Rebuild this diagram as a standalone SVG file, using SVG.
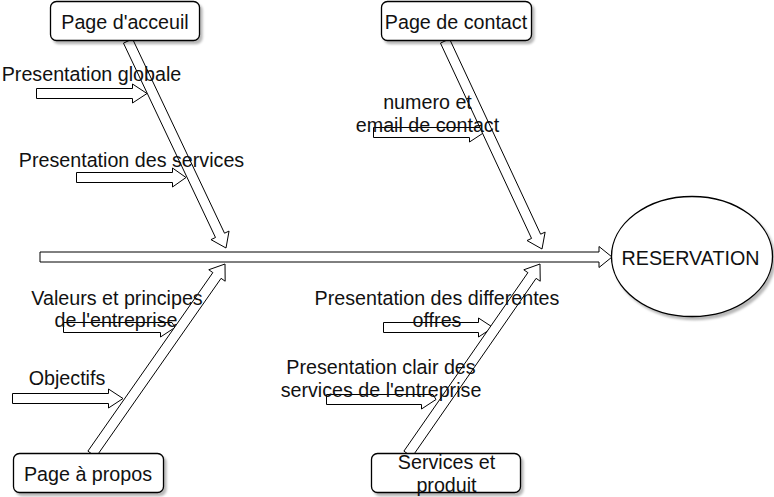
<svg xmlns="http://www.w3.org/2000/svg" width="774" height="497" viewBox="0 0 774 497">
<defs>
<filter id="sh" x="-10%" y="-10%" width="130%" height="140%">
<feDropShadow dx="2.5" dy="3" stdDeviation="1.2" flood-color="#000" flood-opacity="0.28"/>
</filter>
<style>
.arr{fill:#fff;stroke:#000;stroke-width:1;stroke-linejoin:miter}
.box{fill:#fff;stroke:#000;stroke-width:1.3}
.t{font-family:"Liberation Sans",Arial,sans-serif;font-size:19.7px;fill:#111;text-anchor:middle}
</style>
</defs>
<rect width="774" height="497" fill="#fff"/>
<g id="connectors">
<polygon class="arr" points="40,252 599,252 599,246.5 612,257 599,267.5 599,262 40,262"/>
<polygon class="arr" points="36.5,88.5 132.5,88.5 132.5,84 147,93.5 132.5,103 132.5,98.5 36.5,98.5"/>
<polygon class="arr" points="76.5,172.5 172.5,172.5 172.5,168 186,177.5 172.5,187 172.5,182.5 76.5,182.5"/>
<polygon class="arr" points="373.5,127.5 481,127.5 484,132.5 469.5,142 469.5,137.5 373.5,137.5"/>
<polygon class="arr" points="63.5,322.5 172,322.5 175,327.5 160.5,337 160.5,332.5 63.5,332.5"/>
<polygon class="arr" points="12.5,393.5 108.5,393.5 108.5,389 123,398.5 108.5,408 108.5,403.5 12.5,403.5"/>
<polygon class="arr" points="383.5,322.5 478.5,322.5 478.5,318 493,327.5 478.5,337 478.5,332.5 383.5,332.5"/>
<polygon class="arr" points="326.5,394.5 433,394.5 436,399.5 421.5,409 421.5,404.5 326.5,404.5"/>
<polygon class="arr" points="132.52,38.86 224.53,233.21 229.05,231.07 226,248 210.97,239.63 215.49,237.49 123.48,43.14"/>
<polygon class="arr" points="449.53,38.89 540.61,234.2 545.14,232.08 542,249 527.02,240.54 531.55,238.42 440.47,43.11"/>
<polygon class="arr" points="96.1,456.87 221.07,278.34 225.16,281.21 225,264 208.78,269.74 212.87,272.6 87.9,451.13"/>
<polygon class="arr" points="412.11,456.85 536.12,278.35 540.22,281.21 540,264 523.8,269.79 527.9,272.65 403.89,451.15"/>
</g>
<g id="page-acceuil">
<rect class="box" x="50.5" y="1.5" width="149" height="39" rx="6" filter="url(#sh)"/>
<text class="t" x="125" y="29">Page d'acceuil</text>
</g>
<g id="page-contact">
<rect class="box" x="381.5" y="1.5" width="150" height="39" rx="6" filter="url(#sh)"/>
<text class="t" x="456" y="29">Page de contact</text>
</g>
<g id="page-propos">
<rect class="box" x="13.5" y="453.5" width="150" height="39" rx="6" filter="url(#sh)"/>
<text class="t" x="88" y="480.5">Page à propos</text>
</g>
<g id="services-produit">
<rect class="box" x="371.5" y="453.5" width="149" height="39" rx="6" filter="url(#sh)"/>
<text class="t" x="446.5" y="468.5">Services et</text>
<text class="t" x="446.5" y="491.5">produit</text>
</g>
<g id="reservation">
<ellipse class="box" cx="692" cy="256.5" rx="80.5" ry="60" filter="url(#sh)"/>
<text class="t" x="690.5" y="265">RESERVATION</text>
</g>
<g id="label-presentation-globale">
<text class="t" x="91.5" y="80.5">Presentation globale</text>
</g>
<g id="label-presentation-services">
<text class="t" x="131.5" y="166.5">Presentation des services</text>
</g>
<g id="label-numero-email">
<text class="t" x="427.5" y="108.5">numero et</text>
<text class="t" x="427.5" y="131.5">email de contact</text>
</g>
<g id="label-valeurs">
<text class="t" x="117" y="304.5">Valeurs et principes</text>
<text class="t" x="116" y="327">de l'entreprise</text>
</g>
<g id="label-objectifs">
<text class="t" x="67" y="385">Objectifs</text>
</g>
<g id="label-offres">
<text class="t" x="437" y="304.5">Presentation des differentes</text>
<text class="t" x="437" y="327">offres</text>
</g>
<g id="label-services-entreprise">
<text class="t" x="381" y="373.5">Presentation clair des</text>
<text class="t" x="381" y="396.5">services de l'entreprise</text>
</g>
</svg>
